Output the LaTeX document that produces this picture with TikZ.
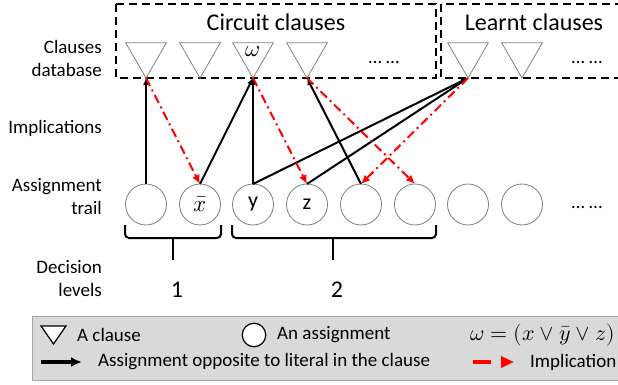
\documentclass[tikz,border=0pt]{standalone}
\usepackage{fontspec}
\usepackage{unicode-math}
\setmainfont{Carlito}
\setmathfont{Latin Modern Math}
\usepackage{tikz}
\usetikzlibrary{shapes.geometric,arrows.meta}
\definecolor{implred}{HTML}{FF0000}
\definecolor{shapegray}{HTML}{7F7F7F}
\definecolor{legendfill}{HTML}{D9D9D9}
\definecolor{legendline}{HTML}{A6A6A6}

\begin{document}
\begin{tikzpicture}[x=1pt, y=-1pt, every node/.style={font=\fontsize{19}{23}\selectfont, inner sep=0pt},
  mathtext/.style={font=\fontsize{23}{27}\selectfont},
  clause/.style={draw=shapegray, line width=0.8pt, regular polygon, regular polygon sides=3, shape border rotate=180, minimum size=47pt, outer sep=0pt},
  assign/.style={draw=shapegray, line width=0.8pt, circle, fill=white, minimum size=41pt, outer sep=0pt},
  opp/.style={-{Latex[length=7pt,width=6pt]}, line width=2pt},
  impl/.style={-{Latex[length=9pt,width=8pt]}, implred, line width=2pt, dash pattern=on 9pt off 4pt on 2pt off 4pt},
  boxline/.style={line width=2pt, dash pattern=on 8pt off 5pt},
  bracket/.style={line width=2pt, rounded corners=4pt}]
\path[use as bounding box, clip] (0,0) rectangle (618,385);
% clause boxes
\draw[boxline] (116,4) rectangle (436,78);
\draw[boxline] (441,4) rectangle (640,78);
\node[font=\fontsize{24}{28}\selectfont] (ct) at (276,22) {Circuit clauses};
\node[font=\fontsize{24}{28}\selectfont] (lt) at (534,22) {Learnt clauses};
% row labels
\node[anchor=east, align=right] (rdb) at (102,58.5) {Clauses\\database};
\node[anchor=east] (rim) at (102,128) {Implications};
\node[anchor=east, align=right] (rat) at (102,197) {Assignment\\trail};
\node[anchor=east, align=right] (rdl) at (102,279) {Decision\\levels};
% clauses
\node[clause] (c1) at (146,54.5) {};
\node[clause] (c2) at (200,54.5) {};
\node[clause] (c3) at (253,54.5) {};
\node[mathtext] (cw) at (253,52) {$\omega$};
\node[clause] (c4) at (307,54.5) {};
\node (cd) at (384,62) {… …};
\node[clause] (l1) at (468,54.5) {};
\node[clause] (l2) at (522,54.5) {};
\node (ld) at (587,62) {… …};
% assignment trail
\node[assign] (t1) at (146,204.5) {};
\node[assign, mathtext] (t2) at (200,204.5) {$\bar{x}$};
\node[assign, font=\fontsize{22}{26}\selectfont] (t3) at (253,204.5) {y};
\node[assign, font=\fontsize{22}{26}\selectfont] (t4) at (307,204.5) {z};
\node[assign] (t5) at (361,204.5) {};
\node[assign] (t6) at (415,204.5) {};
\node[assign] (t7) at (468,204.5) {};
\node[assign] (t8) at (522,204.5) {};
\node (td) at (587,207) {… …};
% connectors
\draw[opp] (t1.north) -- (c1.corner 1);
\draw[opp] (t2.north) -- (c3.corner 1);
\draw[opp] (t3.north) -- (c3.corner 1);
\draw[opp] (t5.north) -- (c4.corner 1);
\draw[opp] (t3.north) -- (l1.corner 1);
\draw[opp] (t4.north) -- (l1.corner 1);
\draw[impl] (c1.corner 1) -- (t2.north);
\draw[impl] (c3.corner 1) -- (t4.north);
\draw[impl] (c4.corner 1) -- (t6.north);
\draw[impl] (l1.corner 1) -- (t5.north);
% decision levels
\draw[bracket] (125,225) -- (125,238) -- (221,238) -- (221,225);
\draw[line width=2pt] (173,238) -- (173,260);
\draw[bracket] (232,225) -- (232,238) -- (436,238) -- (436,225);
\draw[line width=2pt] (333,238) -- (333,260);
\node[font=\fontsize{24}{28}\selectfont] (d1) at (177,290) {1};
\node[font=\fontsize{24}{28}\selectfont] (d2) at (337,290) {2};
% legend
\draw[draw=legendline, fill=legendfill, line width=1pt] (32,316) rectangle (640,380);
\draw[line width=1.2pt, fill=white] (41,326) -- (66,326) -- (53.5,344) -- cycle;
\node[anchor=west] (kct) at (77,335) {A clause};
\node[draw=black, line width=1.2pt, circle, fill=white, minimum size=23.5pt] (ka) at (254,335) {};
\node[anchor=west] (kat) at (277,335) {An assignment};
\node[anchor=east, font=\fontsize{22}{26}\selectfont] (kw) at (615,335) {$\omega = (x \vee \bar{y} \vee z)$};
\coordinate (ko1) at (41,362);
\coordinate (ko2) at (82,362);
\draw[-{Latex[length=11pt,width=10pt]}, line width=3.3pt] (ko1) -- (ko2);
\node[anchor=west] (kot) at (98,362) {Assignment opposite to literal in the clause};
\coordinate (ki1) at (473,362);
\coordinate (ki2) at (514,362);
\draw[implred, line width=4pt, dash pattern=on 18pt off 30pt, -{Triangle[length=13pt,width=11pt]}] (ki1) -- (ki2);
\node[anchor=west] (kit) at (530,362) {Implication};
\end{tikzpicture}
\end{document}
